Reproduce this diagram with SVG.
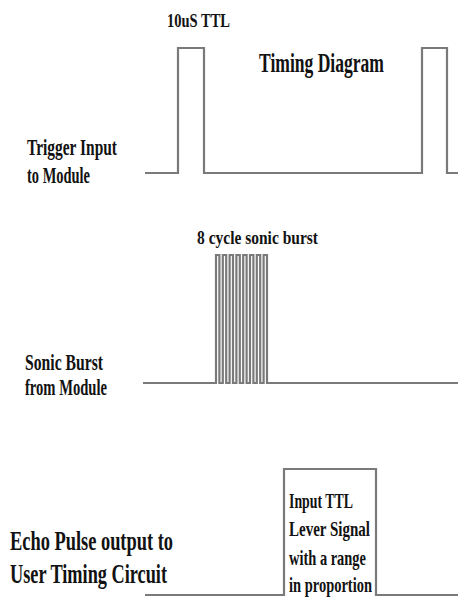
<svg xmlns="http://www.w3.org/2000/svg" width="458" height="600" viewBox="0 0 458 600">
<style>
.sig{fill:none;stroke:#7a7a7a;stroke-width:2.2;stroke-linejoin:miter}
.t{font-family:"Liberation Serif","Times New Roman",serif;font-weight:bold;fill:#121212}
</style>
<rect width="458" height="600" fill="#fff"/>
<g id="title">
<text class="t" x="259" y="72" font-size="28" textLength="125" lengthAdjust="spacingAndGlyphs">Timing Diagram</text>
</g>
<g id="trigger">
<text class="t" x="167" y="27" font-size="19" textLength="63" lengthAdjust="spacingAndGlyphs">10uS TTL</text>
<text class="t" x="27" y="155" font-size="24" textLength="90" lengthAdjust="spacingAndGlyphs">Trigger Input</text>
<text class="t" x="27" y="183" font-size="24" textLength="63" lengthAdjust="spacingAndGlyphs">to Module</text>
<polyline class="sig" points="145,173 178,173 178,48 204,48 204,173 422,173 422,48 447,48 447,173 458,173"/>
</g>
<g id="burst">
<text class="t" x="197" y="244" font-size="19" textLength="121" lengthAdjust="spacingAndGlyphs">8 cycle sonic burst</text>
<text class="t" x="25" y="370" font-size="24" textLength="78" lengthAdjust="spacingAndGlyphs">Sonic Burst</text>
<text class="t" x="25" y="395" font-size="24" textLength="82" lengthAdjust="spacingAndGlyphs">from Module</text>
<polyline class="sig" points="143,383 216,383 216,255 219.4,255 219.4,383 222.8,383 222.8,255 226.2,255 226.2,383 229.6,383 229.6,255 233,255 233,383 236.4,383 236.4,255 239.8,255 239.8,383 243.2,383 243.2,255 246.6,255 246.6,383 250,383 250,255 253.4,255 253.4,383 256.8,383 256.8,255 260.2,255 260.2,383 263.6,383 263.6,255 267,255 267,383 458,383"/>
</g>
<g id="echo">
<text class="t" x="10" y="550" font-size="27" textLength="163" lengthAdjust="spacingAndGlyphs">Echo Pulse output to</text>
<text class="t" x="10" y="583" font-size="27" textLength="157" lengthAdjust="spacingAndGlyphs">User Timing Circuit</text>
<text class="t" x="289" y="508" font-size="22" textLength="64" lengthAdjust="spacingAndGlyphs">Input TTL</text>
<text class="t" x="289" y="536" font-size="22" textLength="81" lengthAdjust="spacingAndGlyphs">Lever Signal</text>
<text class="t" x="289" y="565" font-size="22" textLength="77" lengthAdjust="spacingAndGlyphs">with a range</text>
<text class="t" x="289" y="592" font-size="22" textLength="83" lengthAdjust="spacingAndGlyphs">in proportion</text>
<polyline class="sig" points="145,595 284,595 284,469 376,469 376,595 458,595"/>
</g>
</svg>
